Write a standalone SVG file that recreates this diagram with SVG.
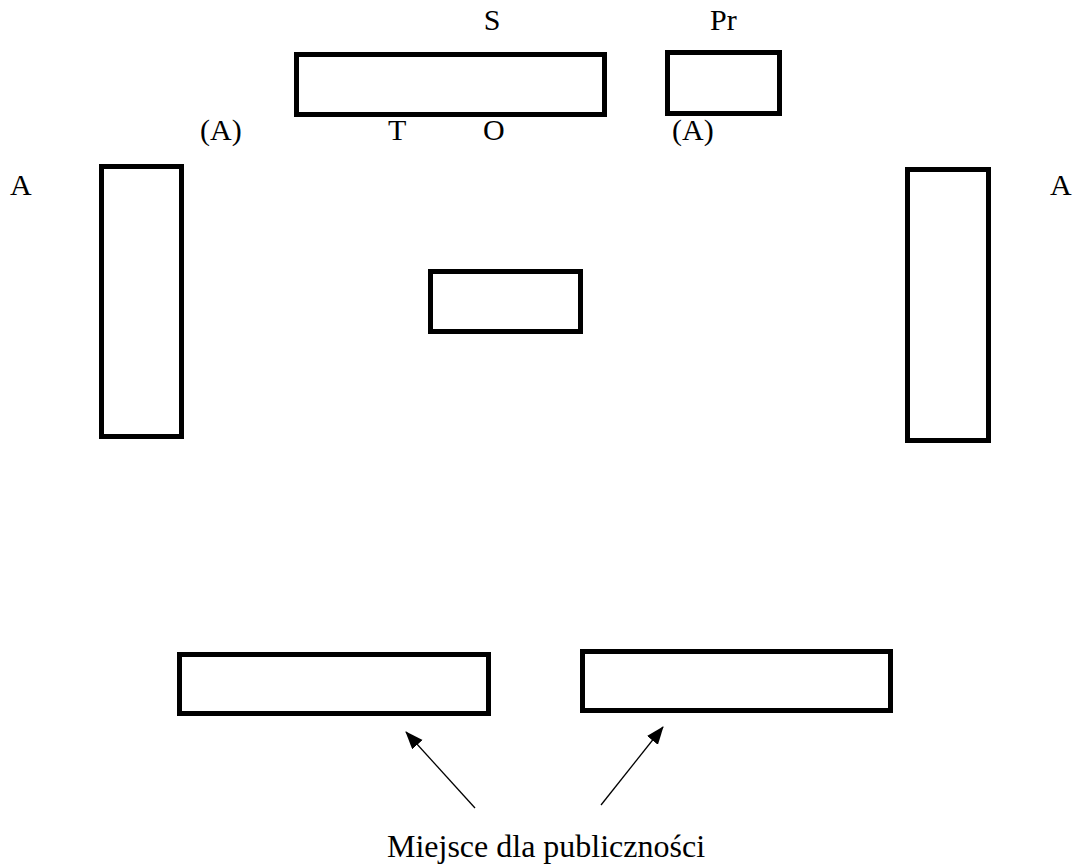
<svg xmlns="http://www.w3.org/2000/svg" width="1074" height="866" viewBox="0 0 1074 866">
<defs>
<style>
.box{fill:#fff;stroke:#000;stroke-width:5}
.lbl{font-family:"Liberation Serif","Times New Roman",serif;font-size:30px;fill:#000}
.big{font-family:"Liberation Serif","Times New Roman",serif;font-size:32px;fill:#000}
.arr{stroke:#000;stroke-width:1.3;fill:none}
</style>
<marker id="ah" markerWidth="18" markerHeight="16" refX="17" refY="7" orient="auto" markerUnits="userSpaceOnUse">
<path d="M0,0 L18,7 L0,14 Z" fill="#000"/>
</marker>
</defs>
<rect width="1074" height="866" fill="#fff"/>
<g id="table-top">
<rect class="box" x="296.5" y="54.5" width="308" height="60"/>
<text class="lbl" x="492" y="30" text-anchor="middle">S</text>
<text class="lbl" x="388" y="140">T</text>
<text class="lbl" x="483" y="140">O</text>
</g>
<g id="table-pr">
<rect class="box" x="667.5" y="52.5" width="112" height="61"/>
<text class="lbl" x="710" y="30">Pr</text>
<text class="lbl" x="672" y="140">(A)</text>
</g>
<text class="lbl" x="200" y="140">(A)</text>
<g id="table-left">
<rect class="box" x="101.5" y="166.5" width="80" height="270"/>
<text class="lbl" x="10" y="195">A</text>
</g>
<g id="table-right">
<rect class="box" x="907.5" y="169.5" width="81" height="271"/>
<text class="lbl" x="1050" y="195">A</text>
</g>
<g id="table-center">
<rect class="box" x="430.5" y="271.5" width="150" height="60"/>
</g>
<g id="audience-left">
<rect class="box" x="179.5" y="654.5" width="309" height="59"/>
</g>
<g id="audience-right">
<rect class="box" x="582.5" y="651.5" width="308" height="59"/>
</g>
<g id="connectors">
<line class="arr" x1="475" y1="808" x2="406" y2="732" marker-end="url(#ah)"/>
<line class="arr" x1="601" y1="805" x2="663" y2="727" marker-end="url(#ah)"/>
</g>
<g id="audience-label">
<text class="big" x="546" y="857" text-anchor="middle">Miejsce dla publiczności</text>
</g>
</svg>
